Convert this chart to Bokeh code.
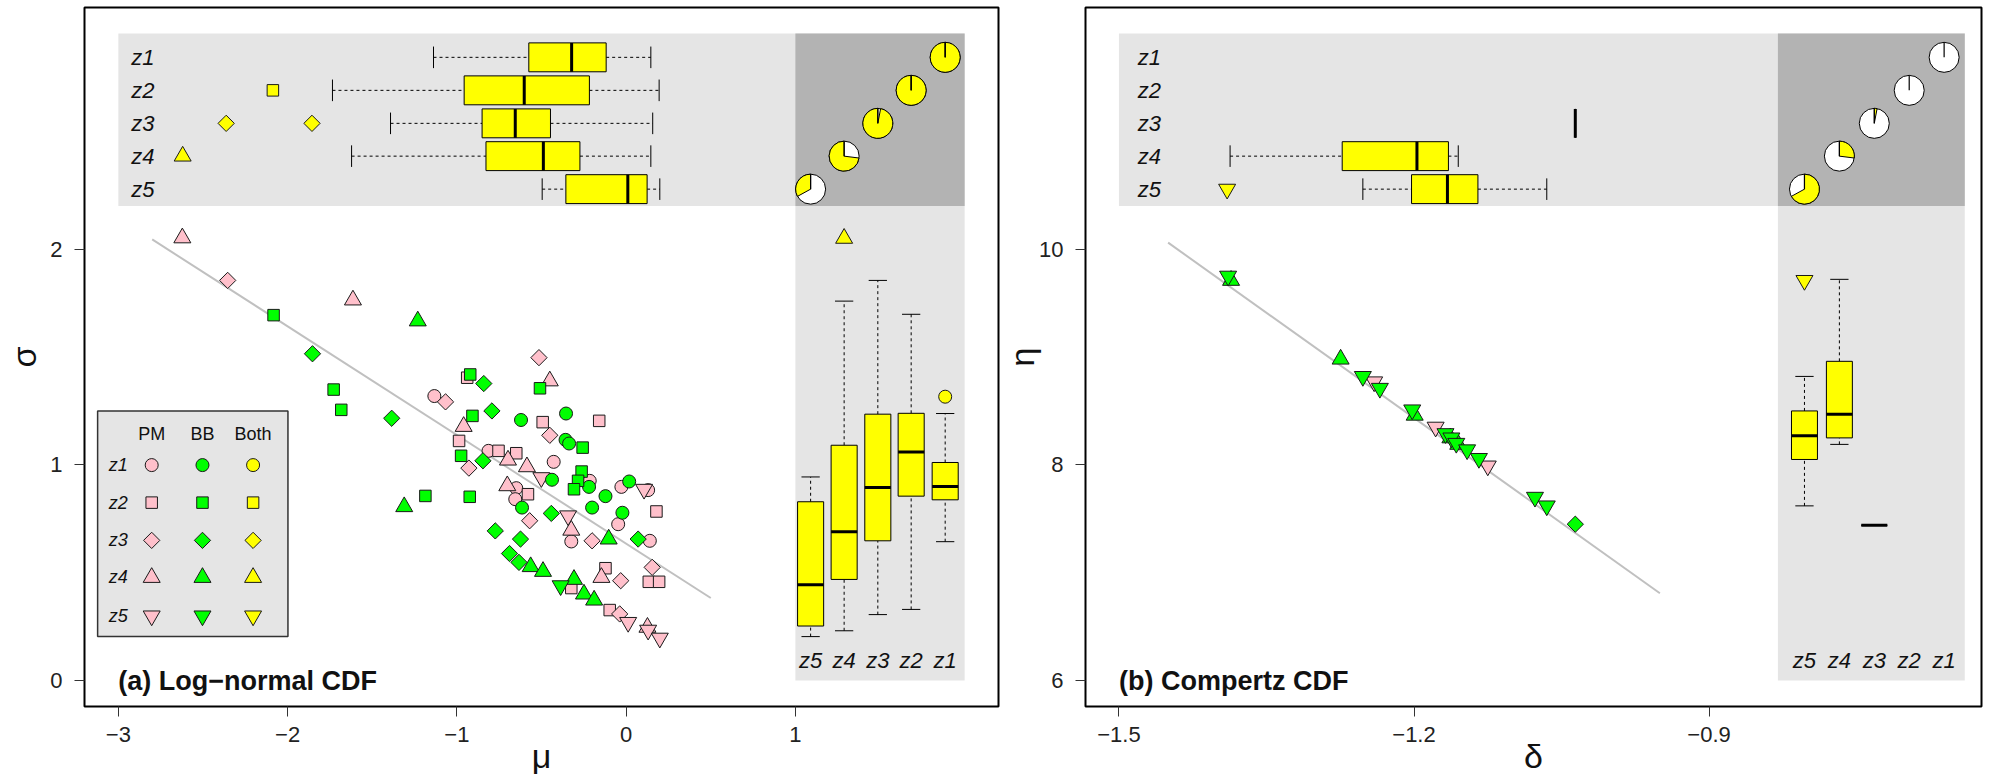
import math
from bokeh.plotting import figure
from bokeh.models import Range1d, FixedTicker, ColumnDataSource
from bokeh.layouts import row
from bokeh.embed import file_html
from bokeh.resources import INLINE
from bokeh.core.properties import value, field

FONT = "Liberation Sans"
PINK = "#FFC0CB"
GREEN = "#00FF00"
YELLOW = "#FFFF00"
LIGHT = "#E5E5E5"
DARK = "#B3B3B3"
EDGE = "#1a1a1a"

ZONES = ["z1", "z2", "z3", "z4", "z5"]

# ---------------- Panel (a): Log-normal CDF ----------------
a_pm_mu = [-1.133, -0.813, -0.428, -0.215, -0.028, 0.130, -0.649, -0.655, -0.047, -0.324, 0.140,
           -0.939, -0.159, -0.493, -0.987, -0.754, -0.649, 0.179, -0.580, -0.324, -0.122, 0.134, 0.195, -0.097,
           -2.354, -0.515, -1.067, -0.451, -0.929, -0.570, -0.201, -0.032, 0.154, -0.038,
           -2.622, -1.614, -0.451, -0.960, -0.698, -0.586, -0.702, -0.324, -0.146, 0.126,
           -0.501, 0.106, -0.343, 0.012, 0.130, 0.199]
a_pm_sigma = [1.319, 1.065, 1.014, 0.926, 0.898, 0.883, 0.892, 0.841, 0.725, 0.645, 0.648,
              1.404, 1.204, 1.198, 1.111, 1.065, 1.054, 0.784, 0.864, 0.429, 0.521, 0.458, 0.458, 0.327,
              1.855, 1.497, 1.292, 1.137, 0.985, 0.741, 0.648, 0.463, 0.525, 0.309,
              2.052, 1.764, 1.389, 1.178, 1.022, 0.991, 0.903, 0.697, 0.478, 0.247,
              0.941, 0.887, 0.764, 0.270, 0.234, 0.197]
a_pm_zone = ["z1"] * 11 + ["z2"] * 13 + ["z3"] * 10 + ["z4"] * 10 + ["z5"] * 6

a_bb_mu = [-0.621, -0.355, -0.358, -0.337, -0.438, -0.219, -0.122, 0.018, -0.615, -0.201, -0.022,
           -2.083, -1.728, -1.683, -1.186, -0.924, -0.921, -0.509, -0.908, -0.257, -0.975, -0.263, -0.284, -0.308,
           -1.853, -1.385, -0.841, -0.793, -0.846, -0.442, 0.071, -0.773, -0.624, -0.689, -0.633,
           -1.231, -1.311, -0.103, -0.564, -0.491, -0.308, -0.249, -0.189,
           -0.387]
a_bb_sigma = [1.208, 1.238, 1.116, 1.099, 0.931, 0.898, 0.855, 0.923, 0.802, 0.802, 0.778,
              1.694, 1.349, 1.255, 0.856, 0.852, 1.419, 1.355, 1.227, 1.080, 1.042, 0.969, 0.926, 0.887,
              1.515, 1.216, 1.377, 1.250, 1.019, 0.775, 0.656, 0.694, 0.656, 0.589, 0.548,
              1.667, 0.806, 0.656, 0.528, 0.506, 0.469, 0.401, 0.373,
              0.440]
a_bb_zone = ["z1"] * 11 + ["z2"] * 13 + ["z3"] * 11 + ["z4"] * 8 + ["z5"] * 1

# fitted line end points (mu, sigma)
a_line_mu = [-2.80, 0.50]
a_line_sigma = [2.045, 0.383]

# boxplots of mu per zone (z1..z5)
a_mu_lo = [-1.138, -1.735, -1.392, -1.622, -0.496]
a_mu_q1 = [-0.575, -0.957, -0.851, -0.828, -0.356]
a_mu_med = [-0.322, -0.602, -0.655, -0.489, 0.010]
a_mu_q3 = [-0.118, -0.217, -0.447, -0.273, 0.124]
a_mu_hi = [0.146, 0.195, 0.157, 0.146, 0.199]
a_mu_out_zone = ["z2", "z3", "z3", "z4"]
a_mu_out_val = [-2.087, -2.363, -1.856, -2.620]

# boxplots of sigma per zone (z1..z5)
a_sig_lo = [0.644, 0.330, 0.306, 0.231, 0.204]
a_sig_q1 = [0.838, 0.855, 0.648, 0.469, 0.253]
a_sig_med = [0.900, 1.060, 0.895, 0.690, 0.444]
a_sig_q3 = [1.011, 1.239, 1.235, 1.091, 0.829]
a_sig_hi = [1.238, 1.698, 1.855, 1.759, 0.944]
a_sig_out_zone = ["z1", "z4"]
a_sig_out_val = [1.316, 2.050]

# pie: share of "Both" (yellow) per zone
a_pie_yellow = [1.0, 1.0, 0.97, 0.73, 0.33]

# ---------------- Panel (b): Compertz CDF ----------------
b_pm_delta = [-1.2405, -1.178, -1.125]
b_pm_eta = [8.77, 8.35, 7.99]
b_pm_zone = ["z5", "z5", "z5"]

b_bb_delta = [-1.036,
              -1.386, -1.2746, -1.1993, -1.163, -1.155,
              -1.389, -1.252, -1.2347, -1.2018, -1.168, -1.162, -1.157, -1.146, -1.134, -1.077, -1.065]
b_bb_eta = [7.45,
            9.71, 8.98, 8.46, 8.25, 8.19,
            9.75, 8.82, 8.71, 8.51, 8.29, 8.25, 8.20, 8.14, 8.06, 7.70, 7.62]
b_bb_zone = ["z3"] + ["z4"] * 5 + ["z5"] * 11

b_line_delta = [-1.45, -0.95]
b_line_eta = [10.06, 6.81]

N = None
b_d_lo = [N, N, -1.036, -1.387, -1.252]
b_d_q1 = [N, N, -1.036, -1.273, -1.2025]
b_d_med = [N, N, -1.036, -1.197, -1.166]
b_d_q3 = [N, N, -1.036, -1.165, -1.135]
b_d_hi = [N, N, -1.036, -1.155, -1.065]
b_d_out_zone = ["z5"]
b_d_out_val = [-1.390]

b_e_lo = [N, N, 7.44, 8.19, 7.62]
b_e_q1 = [N, N, 7.44, 8.25, 8.05]
b_e_med = [N, N, 7.44, 8.47, 8.27]
b_e_q3 = [N, N, 7.44, 8.96, 8.50]
b_e_hi = [N, N, 7.44, 9.72, 8.82]
b_e_out_zone = ["z5"]
b_e_out_val = [9.71]

b_pie_yellow = [0.0, 0.0, 0.03, 0.27, 0.67]

# ---------------- helpers ----------------
MARK = {"z1": "circle", "z2": "square", "z3": "square", "z4": "triangle", "z5": "inverted_triangle"}
ANG = {"z1": 0.0, "z2": 0.0, "z3": math.pi / 4, "z4": 0.0, "z5": 0.0}
SIZE = {"z1": 13, "z2": 11.5, "z3": 11.5, "z4": 17, "z5": 17}


def pts(p, xs, ys, zones, color):
    src = ColumnDataSource(dict(x=xs, y=ys, m=[MARK[z] for z in zones],
                                a=[ANG[z] for z in zones], s=[SIZE[z] for z in zones]))
    p.scatter(x="x", y="y", marker=field("m"), angle="a", size="s", source=src,
              fill_color=color, line_color=EDGE, line_width=1)


def txt(p, xs, ys, texts, size, style="normal", align="center", baseline="middle"):
    p.text(x=xs, y=ys, text=texts, text_font=value(FONT), text_font_size=size,
           text_font_style=style, text_align=align, text_baseline=baseline, text_color="#111111")


def boxes(p, horizontal, pos, half, cap, lo, q1, med, q3, hi, out_zone, out_val):
    idx = [i for i in range(5) if lo[i] is not None]
    P = [pos[i] for i in idx]
    L = [lo[i] for i in idx]
    Q1 = [q1[i] for i in idx]
    M = [med[i] for i in idx]
    Q3 = [q3[i] for i in idx]
    H = [hi[i] for i in idx]
    def seg(a0, b0, a1, b1, **kw):
        if horizontal:
            p.segment(x0=a0, y0=b0, x1=a1, y1=b1, line_color="black", **kw)
        else:
            p.segment(x0=b0, y0=a0, x1=b1, y1=a1, line_color="black", **kw)
    seg(L, P, Q1, P, line_dash="3 3", line_width=1)
    seg(Q3, P, H, P, line_dash="3 3", line_width=1)
    seg(L, [v - cap for v in P], L, [v + cap for v in P], line_width=1)
    seg(H, [v - cap for v in P], H, [v + cap for v in P], line_width=1)
    if horizontal:
        p.quad(left=Q1, right=Q3, bottom=[v - half for v in P], top=[v + half for v in P],
               fill_color=YELLOW, line_color="black", line_width=1)
    else:
        p.quad(bottom=Q1, top=Q3, left=[v - half for v in P], right=[v + half for v in P],
               fill_color=YELLOW, line_color="black", line_width=1)
    seg(M, [v - half for v in P], M, [v + half for v in P], line_width=3)
    ox, oy = [], []
    for z, v in zip(out_zone, out_val):
        k = ZONES.index(z)
        if horizontal:
            ox.append(v); oy.append(pos[k])
        else:
            ox.append(pos[k]); oy.append(v)
    pts(p, ox, oy, out_zone, YELLOW)


def pies(p, xs, ys, frac, ccw_from_top):
    p.scatter(x=xs, y=ys, marker="circle", size=30, fill_color="white", line_color="black", line_width=1)
    wx, wy, s0, s1 = [], [], [], []
    for x, y, f in zip(xs, ys, frac):
        if f <= 0:
            continue
        f = min(f, 0.9995)
        wx.append(x); wy.append(y)
        if ccw_from_top:
            s0.append(math.pi / 2); s1.append(math.pi / 2 + 2 * math.pi * f)
        else:
            s0.append(math.pi / 2 - 2 * math.pi * f); s1.append(math.pi / 2)
    p.wedge(x=wx, y=wy, radius=15, radius_units="screen", start_angle=s0, end_angle=s1,
            direction="anticlock", fill_color=YELLOW, line_color="black", line_width=1)
    p.ray(x=xs, y=ys, length=15, length_units="screen", angle=math.pi / 2,
          line_color="black", line_width=1.2)


def panel(width, min_right, xr, yr, xticks, yticks, xlabel, ylabel, ylab_standoff):
    p = figure(width=width, height=782, x_range=Range1d(*xr), y_range=Range1d(*yr),
               output_backend="svg", toolbar_location=None,
               min_border_left=84, min_border_right=min_right, min_border_top=7, min_border_bottom=76)
    p.xgrid.visible = False
    p.ygrid.visible = False
    p.outline_line_color = "black"
    p.outline_line_width = 2
    p.background_fill_color = "white"
    p.border_fill_color = "white"
    p.xaxis.ticker = FixedTicker(ticks=xticks)
    p.yaxis.ticker = FixedTicker(ticks=yticks)
    def lab(t):
        s = ("%g" % t)
        return s.replace("-", "\u2212")
    p.xaxis.major_label_overrides = {t: lab(t) for t in xticks}
    p.yaxis.major_label_overrides = {t: lab(t) for t in yticks}
    for ax in (p.xaxis[0], p.yaxis[0]):
        ax.axis_line_color = None
        ax.major_tick_out = 10
        ax.major_tick_in = 0
        ax.minor_tick_out = 0
        ax.minor_tick_in = 0
        ax.major_tick_line_color = "#333333"
        ax.major_label_text_font = FONT
        ax.major_label_text_font_size = "22px"
        ax.major_label_text_color = "#222222"
        ax.axis_label_text_font = FONT
        ax.axis_label_text_font_size = "34px"
        ax.axis_label_text_font_style = "normal"
        ax.axis_label_text_color = "#111111"
    p.xaxis.axis_label = xlabel
    p.yaxis.axis_label = ylabel
    p.xaxis.major_label_standoff = 10
    p.xaxis.axis_label_standoff = -8
    p.yaxis.major_label_standoff = 12
    p.yaxis.axis_label_standoff = ylab_standoff
    return p


# ================= Panel (a) =================
pa = panel(1000, 2, (-3.2, 2.2), (-0.12, 3.12), [-3, -2, -1, 0, 1], [0, 1, 2], "\u03bc", "\u03c3", 4)
a_rows = [2.889, 2.736, 2.583, 2.431, 2.278]
a_cols = [1.885, 1.684, 1.487, 1.288, 1.090]
pa.quad(left=[-3.0], right=[2.0], bottom=[2.2], top=[3.0], fill_color=LIGHT, line_color=None)
pa.quad(left=[1.0], right=[2.0], bottom=[0.0], top=[2.2], fill_color=LIGHT, line_color=None)
pa.quad(left=[1.0], right=[2.0], bottom=[2.2], top=[3.0], fill_color=DARK, line_color=None)
pa.line(a_line_mu, a_line_sigma, line_color="#C0C0C0", line_width=2)
pts(pa, a_pm_mu, a_pm_sigma, a_pm_zone, PINK)
pts(pa, a_bb_mu, a_bb_sigma, a_bb_zone, GREEN)
# legend box
pa.quad(left=[-3.1225], right=[-1.998], bottom=[0.204], top=[1.25], fill_color=LIGHT,
        line_color="#333333", line_width=1.5)
leg_rows = [0.999, 0.825, 0.650, 0.478, 0.300]
leg_cols = [-2.803, -2.503, -2.204]
txt(pa, leg_cols, [1.144] * 3, ["PM", "BB", "Both"], "18px")
txt(pa, [-3.0] * 5, leg_rows, ZONES, "18px", style="italic")
for c, col in zip(leg_cols, [PINK, GREEN, YELLOW]):
    pts(pa, [c] * 5, leg_rows, ZONES, col)
boxes(pa, True, a_rows, 0.067, 0.05, a_mu_lo, a_mu_q1, a_mu_med, a_mu_q3, a_mu_hi, a_mu_out_zone, a_mu_out_val)
boxes(pa, False, a_cols, 0.077, 0.054, a_sig_lo, a_sig_q1, a_sig_med, a_sig_q3, a_sig_hi, a_sig_out_zone, a_sig_out_val)
pies(pa, a_cols, a_rows, a_pie_yellow, True)
txt(pa, [-2.855] * 5, a_rows, ZONES, "22px", style="italic")
txt(pa, a_cols, [0.095] * 5, ZONES, "22px", style="italic")
txt(pa, [-3.0], [0.0], ["(a) Log\u2212normal CDF"], "27px", style="bold", align="left")

# ================= Panel (b) =================
pb = panel(990, 9, (-1.534, -0.623), (5.76, 12.24), [-1.5, -1.2, -0.9], [6, 8, 10], "\u03b4", "\u03b7", -5)
b_rows = [11.778, 11.472, 11.166, 10.862, 10.556]
b_cols = [-0.661, -0.6965, -0.732, -0.7675, -0.803]
pb.quad(left=[-1.5], right=[-0.64], bottom=[10.4], top=[12.0], fill_color=LIGHT, line_color=None)
pb.quad(left=[-0.83], right=[-0.64], bottom=[6.0], top=[10.4], fill_color=LIGHT, line_color=None)
pb.quad(left=[-0.83], right=[-0.64], bottom=[10.4], top=[12.0], fill_color=DARK, line_color=None)
pb.line(b_line_delta, b_line_eta, line_color="#C0C0C0", line_width=2)
pts(pb, b_pm_delta, b_pm_eta, b_pm_zone, PINK)
pts(pb, b_bb_delta, b_bb_eta, b_bb_zone, GREEN)
boxes(pb, True, b_rows, 0.134, 0.10, b_d_lo, b_d_q1, b_d_med, b_d_q3, b_d_hi, b_d_out_zone, b_d_out_val)
boxes(pb, False, b_cols, 0.0132, 0.0093, b_e_lo, b_e_q1, b_e_med, b_e_q3, b_e_hi, b_e_out_zone, b_e_out_val)
pies(pb, b_cols, b_rows, b_pie_yellow, False)
txt(pb, [-1.469] * 5, b_rows, ZONES, "22px", style="italic")
txt(pb, b_cols, [6.19] * 5, ZONES, "22px", style="italic")
txt(pb, [-1.5], [6.0], ["(b) Compertz CDF"], "27px", style="bold", align="left")

layout = row(pa, pb)
open("out.html", "w").write(file_html(layout, INLINE))
